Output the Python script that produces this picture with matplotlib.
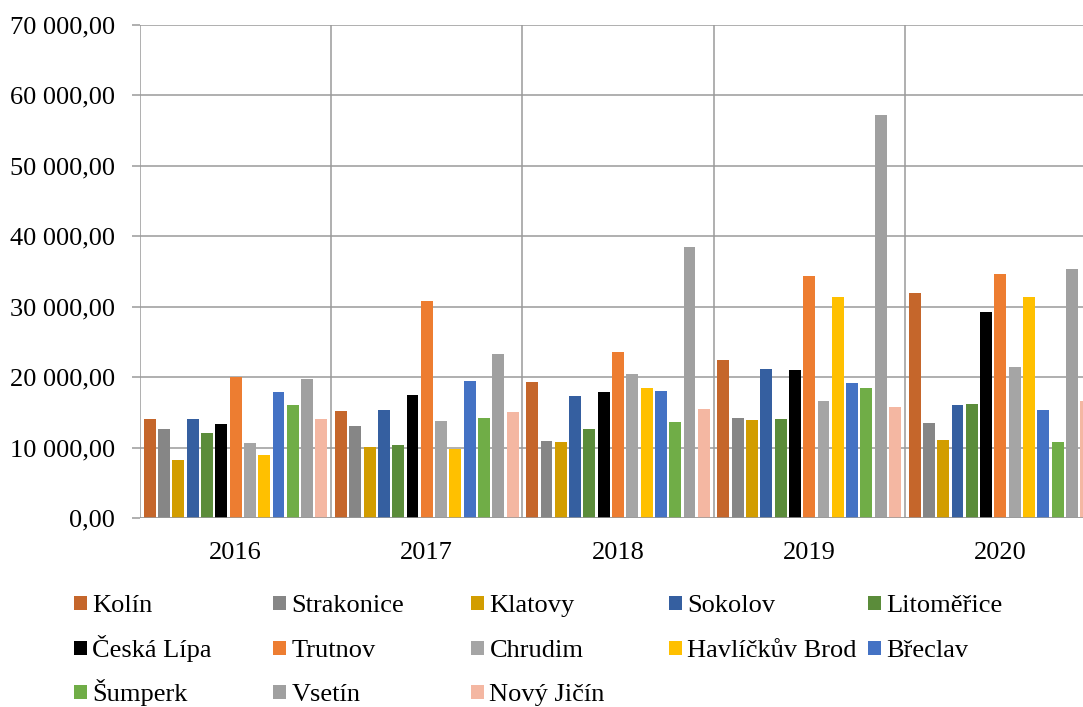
import numpy as np
import matplotlib
matplotlib.use("Agg")
import matplotlib.pyplot as plt
from matplotlib.ticker import FuncFormatter

plt.rcParams['font.family'] = ['Liberation Serif', 'DejaVu Serif']

years = ["2016", "2017", "2018", "2019", "2020"]
districts = ["Kolín", "Strakonice", "Klatovy", "Sokolov", "Litoměřice",
             "Česká Lípa", "Trutnov", "Chrudim", "Havlíčkův Brod", "Břeclav",
             "Šumperk", "Vsetín", "Nový Jičín"]

# values per district, 2016..2020
kolin = [14000, 15200, 19300, 22400, 32000]
strakonice = [12700, 13100, 10900, 14200, 13500]
klatovy = [8200, 10050, 10800, 13900, 11100]
sokolov = [14000, 15400, 17300, 21200, 16100]
litomerice = [12100, 10300, 12600, 14000, 16200]
ceska_lipa = [13400, 17500, 17900, 21000, 29300]
trutnov = [20000, 30800, 23600, 34400, 34600]
chrudim = [10600, 13800, 20400, 16600, 21500]
havlickuv_brod = [8900, 9800, 18400, 31400, 31400]
breclav = [17900, 19400, 18000, 19100, 15400]
sumperk = [16000, 14200, 13600, 18400, 10800]
vsetin = [19800, 23300, 38500, 57200, 35300]
novy_jicin = [14100, 15100, 15500, 15700, 16600]

series = [kolin, strakonice, klatovy, sokolov, litomerice, ceska_lipa, trutnov,
          chrudim, havlickuv_brod, breclav, sumperk, vsetin, novy_jicin]
colors = ['#C5662B', '#868686', '#D29D00', '#355FA0', '#5B8C3A', '#000000',
          '#ED7D31', '#A5A5A5', '#FFC000', '#4472C4', '#70AD47', '#A0A0A0',
          '#F4B7A2']

W, H = 1083, 707
fig = plt.figure(figsize=(W / 100, H / 100), dpi=100)
ax = fig.add_axes([140 / W, 1 - 518 / H, (1096 - 140) / W, (518 - 25) / H])

step = 0.0748
width = 0.062
x = np.arange(len(years))
bars = []
for j, (vals, c) in enumerate(zip(series, colors)):
    off = (j - 6) * step + 0.5
    b = ax.bar(x + off, vals, width=width, color=c, zorder=3, label=districts[j])
    bars.append(b)

grid_c = '#9A9A9A'
ax.set_xlim(0, 5)
ax.set_ylim(0, 70000)
ax.set_yticks(np.arange(0, 70001, 10000))
ax.yaxis.set_major_formatter(FuncFormatter(
    lambda v, p: f"{v:,.2f}".replace(",", " ").replace(".", ",")))
ax.set_xticks(x + 0.5)
ax.set_xticklabels(years)
ax.tick_params(axis='x', length=0, pad=17, labelsize=19)
ax.tick_params(axis='y', length=6, width=1.1, color=grid_c, pad=12, labelsize=19)
for s in ax.spines.values():
    s.set_visible(False)
ax.yaxis.grid(True, color=grid_c, linewidth=1.1, zorder=1)
for xv in range(0, 6):
    ax.axvline(xv, color=grid_c, linewidth=1.1, zorder=1)
ax.axhline(0, color=grid_c, linewidth=1.1, zorder=4)

# legend: 5 columns x 3 rows, each entry placed at a fixed grid position
col_x = [74, 273, 471, 669, 868]
row_bottom = [617, 662, 706]
for k, name in enumerate(districts):
    r, c = divmod(k, 5)
    fig.legend([bars[k]], [name],
               loc='lower left', bbox_to_anchor=(col_x[c] / W, 1 - row_bottom[r] / H),
               frameon=False, fontsize=19, handlelength=0.5, handleheight=0.45,
               handletextpad=0.2, borderpad=0, borderaxespad=0)

fig.savefig("out.png", dpi=100)
